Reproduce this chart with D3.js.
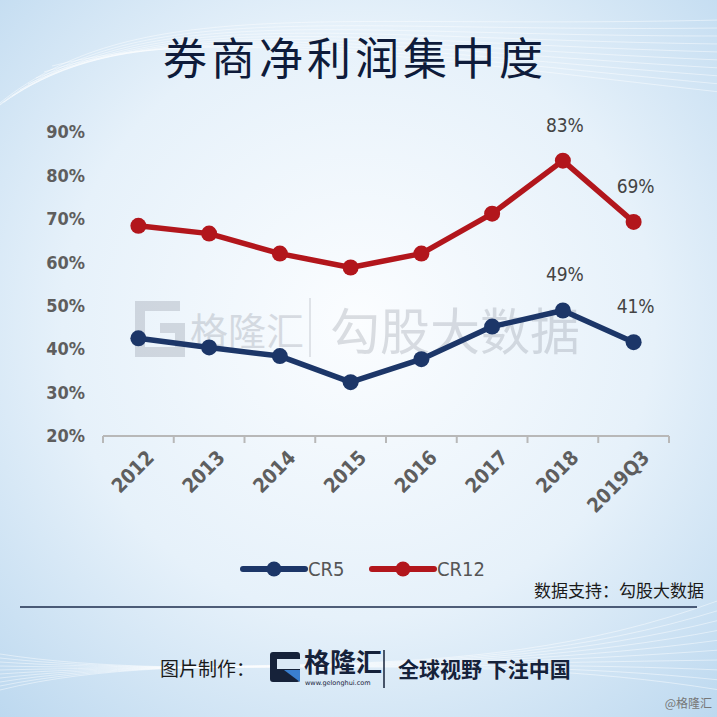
<!DOCTYPE html>
<html><head><meta charset="utf-8">
<script src="https://cdn.jsdelivr.net/npm/d3@7/dist/d3.min.js"></script>
<style>body{margin:0;padding:0;overflow:hidden}svg{display:block}</style>
</head><body>
<script>
const categories = ["2012","2013","2014","2015","2016","2017","2018","2019Q3"];
const cr5  = [42.5, 40.4, 38.4, 32.4, 37.7, 45.2, 48.9, 41.6];
const cr12 = [68.4, 66.6, 62.0, 58.8, 62.0, 71.2, 83.4, 69.3];
const yTicks = [20,30,40,50,60,70,80,90];
const labelsCR5  = [{i:6,t:"49%"},{i:7,t:"41%"}];
const labelsCR12 = [{i:6,t:"83%"},{i:7,t:"69%"}];
const seriesNames = ["CR5","CR12"];
const colors = {CR5:"#1c3668", CR12:"#b2161c"};

const W=717,H=717;
const svg=d3.select("body").append("svg").attr("width",W).attr("height",H);
const defs=svg.append("defs");
const rg=defs.append("radialGradient").attr("id","bg").attr("cx","50%").attr("cy","45%").attr("r","75%");
rg.append("stop").attr("offset","0%").attr("stop-color","#fbfdff");
rg.append("stop").attr("offset","55%").attr("stop-color","#e6f1fa");
rg.append("stop").attr("offset","100%").attr("stop-color","#bcd8ef");
svg.append("rect").attr("width",W).attr("height",H).attr("fill","url(#bg)");

// decorative swooshes
const deco=svg.append("g").attr("fill","none").attr("stroke","#ffffff").attr("stroke-opacity",0.45);
for(let k=0;k<10;k++){
  deco.append("path").attr("d",`M${-20+k*8},${120-k*6} C ${120+k*10},${-10+k*4} ${300+k*12},${30+k*3} ${720},${20+k*8}`).attr("stroke-width",1);
  deco.append("path").attr("d",`M${0},${690-k*4} C ${200},${640+k*5} ${450},${700-k*6} ${720},${600+k*10}`).attr("stroke-width",1);
}

// title
svg.append("text").attr("x",355).attr("y",75).attr("text-anchor","middle")
  .attr("font-family","'Noto Sans CJK SC'").attr("font-size",44).attr("font-weight",400)
  .attr("letter-spacing",4).attr("fill","#0e1b3a").text("券商净利润集中度");

const m={l:103,r:669};
const x=d3.scalePoint().domain(categories).range([m.l,m.r]).padding(0.5);
const step=x.step();
const y=d3.scaleLinear().domain([20,90]).range([436,132]);

// watermark
const wm=svg.append("g").attr("opacity",0.2).attr("fill","#5a6070");
wm.append("path").attr("d","M180,306 L140,306 L140,352 L180,352 L180,328 L160,328").attr("fill","none").attr("stroke","#5a6070").attr("stroke-width",10);
wm.append("text").attr("x",190).attr("y",345).attr("font-family","'Noto Sans CJK SC'").attr("font-size",38).text("格隆汇");
wm.append("line").attr("x1",310).attr("x2",310).attr("y1",298).attr("y2",357).attr("stroke","#5a6070").attr("stroke-width",1.5);
wm.append("text").attr("x",330).attr("y",350).attr("font-family","'Noto Sans CJK SC'").attr("font-size",50).text("勾股大数据");

// axes
const fontNum="'DejaVu Sans Condensed','DejaVu Sans'";
const gy=svg.append("g");
gy.selectAll("text").data(yTicks).join("text")
  .attr("x",85).attr("y",d=>y(d)).attr("dy","0.35em").attr("text-anchor","end")
  .attr("font-family",fontNum).attr("font-size",18).attr("font-weight",700).attr("fill","#5e5e5e").text(d=>d+"%");

const gx=svg.append("g").attr("transform","translate(0,436)");
gx.append("line").attr("x1",m.l).attr("x2",m.r).attr("stroke","#b8b8b8").attr("stroke-width",2);
const tickPos=d3.range(categories.length+1).map(i=>m.l+i*step);
gx.selectAll("line.tk").data(tickPos).join("line").attr("class","tk")
  .attr("x1",d=>d).attr("x2",d=>d).attr("y1",0).attr("y2",7).attr("stroke","#b8b8b8").attr("stroke-width",2);
gx.selectAll("text").data(categories).join("text")
  .attr("transform",d=>`translate(${x(d)+12},${18}) rotate(-45)`)
  .attr("text-anchor","end").attr("dy","0.35em")
  .attr("font-family",fontNum).attr("font-size",20).attr("font-weight",700).attr("fill","#5e5e5e").text(d=>d);

// lines
const line=d3.line().x((d,i)=>x(categories[i])).y(d=>y(d));
[["CR12",cr12],["CR5",cr5]].forEach(([name,vals])=>{
  const g=svg.append("g");
  g.append("path").datum(vals).attr("d",line).attr("fill","none")
    .attr("stroke",colors[name]).attr("stroke-width",5.5).attr("stroke-linejoin","round");
  g.selectAll("circle").data(vals).join("circle")
    .attr("cx",(d,i)=>x(categories[i])).attr("cy",d=>y(d)).attr("r",8).attr("fill",colors[name]);
});

// data labels
function addLabels(lbls,vals){
  svg.append("g").selectAll("text").data(lbls).join("text")
    .attr("x",d=>x(categories[d.i])+2).attr("y",d=>y(vals[d.i])-29)
    .attr("text-anchor","middle").attr("font-family",fontNum).attr("font-size",19).attr("fill","#444")
    .text(d=>d.t);
}
addLabels(labelsCR12,cr12);
addLabels(labelsCR5,cr5);

// legend
const leg=svg.append("g");
const legItems=[{n:"CR5",x:243},{n:"CR12",x:372}];
legItems.forEach(it=>{
  leg.append("line").attr("x1",it.x).attr("x2",it.x+62).attr("y1",569).attr("y2",569)
    .attr("stroke",colors[it.n]).attr("stroke-width",6).attr("stroke-linecap","round");
  leg.append("circle").attr("cx",it.x+31).attr("cy",569).attr("r",7.5).attr("fill",colors[it.n]);
  leg.append("text").attr("x",it.x+65).attr("y",569).attr("dy","0.35em")
    .attr("font-family",fontNum).attr("font-size",20).attr("fill","#555").text(it.n);
});

// source + rule
svg.append("text").attr("x",704).attr("y",597).attr("text-anchor","end")
  .attr("font-family","'Noto Sans CJK SC'").attr("font-size",17).attr("fill","#1a1a1a").text("数据支持：勾股大数据");
svg.append("line").attr("x1",20).attr("x2",697).attr("y1",607).attr("y2",607).attr("stroke","#1c2c4c").attr("stroke-width",1.5);

// footer
const cjk="'Noto Sans CJK SC'";
svg.append("text").attr("x",160).attr("y",676).attr("font-family",cjk).attr("font-size",19).attr("fill","#1a1a1a").text("图片制作：");
const logo=svg.append("g");
logo.append("rect").attr("x",270).attr("y",652).attr("width",30).attr("height",30).attr("rx",3).attr("fill","#16223a");
logo.append("rect").attr("x",277).attr("y",659).attr("width",23).attr("height",10).attr("fill","#dbe9f6");
logo.append("path").attr("d","M284,670 L300,670 L300,682 Z").attr("fill","#3a7fd0");
logo.append("text").attr("x",304).attr("y",672).attr("font-family",cjk).attr("font-size",26).attr("font-weight",700).attr("fill","#16223a").text("格隆汇");
logo.append("text").attr("x",305).attr("y",685).attr("font-family","'DejaVu Sans'").attr("font-size",6.5).attr("fill","#16223a").text("www.gelonghui.com");
svg.append("line").attr("x1",384).attr("x2",384).attr("y1",650).attr("y2",688).attr("stroke","#16223a").attr("stroke-width",1.5);
svg.append("text").attr("x",398).attr("y",677).attr("font-family",cjk).attr("font-size",21).attr("font-weight",700).attr("fill","#16223a").text("全球视野 下注中国");
svg.append("text").attr("x",712).attr("y",708).attr("text-anchor","end").attr("font-family",cjk).attr("font-size",12).attr("fill","#777").text("@格隆汇");
</script>
</body></html>
